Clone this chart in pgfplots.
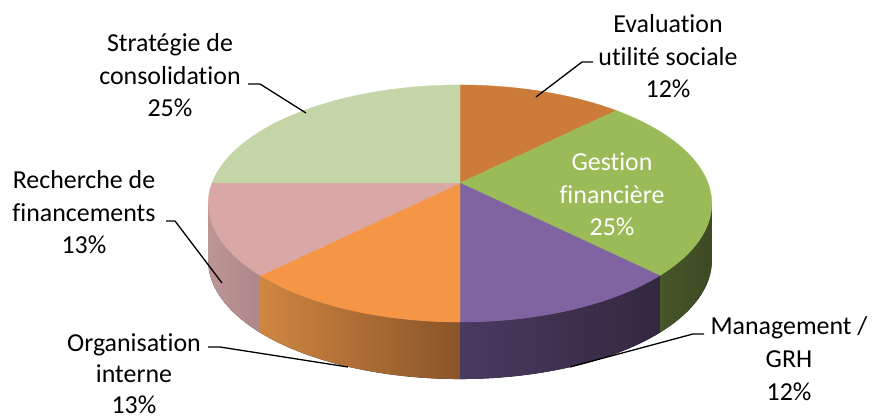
\documentclass[border=0pt]{standalone}
\usepackage{pgfplots}
\pgfplotsset{compat=1.18}
\usepackage{pgfplotstable}
\usepackage{fontspec}
\setmainfont{Carlito}[Ligatures={NoCommon}]

\definecolor{cEval}{HTML}{CD7B38}
\definecolor{cGest}{HTML}{9BBB59}
\definecolor{cMan}{HTML}{8064A2}
\definecolor{cOrg}{HTML}{F59646}
\definecolor{cRech}{HTML}{D9A7A6}
\definecolor{cStrat}{HTML}{C4D6A7}
\definecolor{sRechL}{HTML}{BC9595}
\definecolor{sRechR}{HTML}{AE8888}
\definecolor{sOrgL}{HTML}{D08641}
\definecolor{sOrgR}{HTML}{895428}
\definecolor{sManL}{HTML}{4A3A60}
\definecolor{sManR}{HTML}{33283F}
\definecolor{sGestL}{HTML}{46552A}
\definecolor{sGestR}{HTML}{3D4A23}

\pgfplotstableread{
slice value
1 12.5
2 25
3 12.5
4 12.5
5 12.5
6 25
}\piedata

\begin{document}
\begin{tikzpicture}[
  declare function={px(\t)=460+248*cos(\t)/(1+0.173*sin(\t));
                    py(\t)=235+115*sin(\t)/(1+0.173*sin(\t));},
  lab/.style={font=\fontsize{26}{32}\selectfont, anchor=base, inner sep=0pt, text=black},
  lead/.style={line width=1.3bp, black}]
\xdef\cum{90}
\foreach \i/\n in {0/a,1/b,2/c,3/d,4/e,5/f}{%
  \pgfplotstablegetelem{\i}{value}\of\piedata
  \pgfmathsetmacro\nxt{\cum-3.6*\pgfplotsretval}%
  \expandafter\xdef\csname SS\n\endcsname{\cum}%
  \expandafter\xdef\csname EE\n\endcsname{\nxt}%
  \xdef\cum{\nxt}%
}
\begin{axis}[name=ax, width=872bp, height=418bp, scale only axis,
  xmin=0, xmax=872, ymin=0, ymax=418, hide axis, clip=false]
% side walls
\fill[left color=sRechL, right color=sRechR]
  plot[domain=-170:\SSe, samples=30, variable=\t] ({px(\t)},{py(\t)})
  -- plot[domain=\SSe:-170, samples=30, variable=\t] ({px(\t)},{py(\t)-57}) -- cycle;
\fill[left color=sOrgL, right color=sOrgR]
  plot[domain=\EEd:\SSd, samples=30, variable=\t] ({px(\t)},{py(\t)})
  -- plot[domain=\SSd:\EEd, samples=30, variable=\t] ({px(\t)},{py(\t)-57}) -- cycle;
\fill[left color=sManL, right color=sManR]
  plot[domain=\EEc:\SSc, samples=30, variable=\t] ({px(\t)},{py(\t)})
  -- plot[domain=\SSc:\EEc, samples=30, variable=\t] ({px(\t)},{py(\t)-57}) -- cycle;
\fill[left color=sGestL, right color=sGestR]
  plot[domain=\EEb:-10, samples=30, variable=\t] ({px(\t)},{py(\t)})
  -- plot[domain=-10:\EEb, samples=30, variable=\t] ({px(\t)},{py(\t)-57}) -- cycle;
% top faces
\filldraw[cEval, line width=0.3bp] (460,235) -- plot[domain=\SSa:\EEa, samples=30, variable=\t] ({px(\t)},{py(\t)}) -- cycle;
\filldraw[cGest, line width=0.3bp] (460,235) -- plot[domain=\SSb:\EEb, samples=50, variable=\t] ({px(\t)},{py(\t)}) -- cycle;
\filldraw[cMan, line width=0.3bp] (460,235) -- plot[domain=\SSc:\EEc, samples=30, variable=\t] ({px(\t)},{py(\t)}) -- cycle;
\filldraw[cOrg, line width=0.3bp] (460,235) -- plot[domain=\SSd:\EEd, samples=30, variable=\t] ({px(\t)},{py(\t)}) -- cycle;
\filldraw[cRech, line width=0.3bp] (460,235) -- plot[domain=\SSe:\EEe, samples=30, variable=\t] ({px(\t)},{py(\t)}) -- cycle;
\filldraw[cStrat, line width=0.3bp] (460,235) -- plot[domain=\SSf:\EEf, samples=50, variable=\t] ({px(\t)},{py(\t)}) -- cycle;
% leader lines
\draw[lead] (593,356) -- (582,356) -- (536,321);
\draw[lead] (704,84) -- (693,84) -- (570,51);
\draw[lead] (208,71) -- (220,71) -- (348,51);
\draw[lead] (166,197) -- (175,197) -- (222,135);
\draw[lead] (248,334) -- (260,334) -- (306,305);
% labels
\node[lab] at (668,385) {Evaluation};
\node[lab] at (668,352.5) {utilité sociale};
\node[lab] at (668,320) {12\%};
\node[lab, text=white] at (612,247) {Gestion};
\node[lab, text=white] at (612,214.5) {financière};
\node[lab, text=white] at (612,182) {25\%};
\node[lab] at (789,83) {Management /};
\node[lab] at (789,50.5) {GRH};
\node[lab] at (789,18) {12\%};
\node[lab] at (134,66) {Organisation};
\node[lab] at (134,35.5) {interne};
\node[lab] at (134,5) {13\%};
\node[lab] at (84,229) {Recherche de};
\node[lab] at (84,196.5) {financements};
\node[lab] at (84,164) {13\%};
\node[lab] at (170,366) {Stratégie de};
\node[lab] at (170,333.5) {consolidation};
\node[lab] at (170,301) {25\%};
\end{axis}
\pgfresetboundingbox
\useasboundingbox (ax.south west) rectangle (ax.north east);
\end{tikzpicture}
\end{document}
